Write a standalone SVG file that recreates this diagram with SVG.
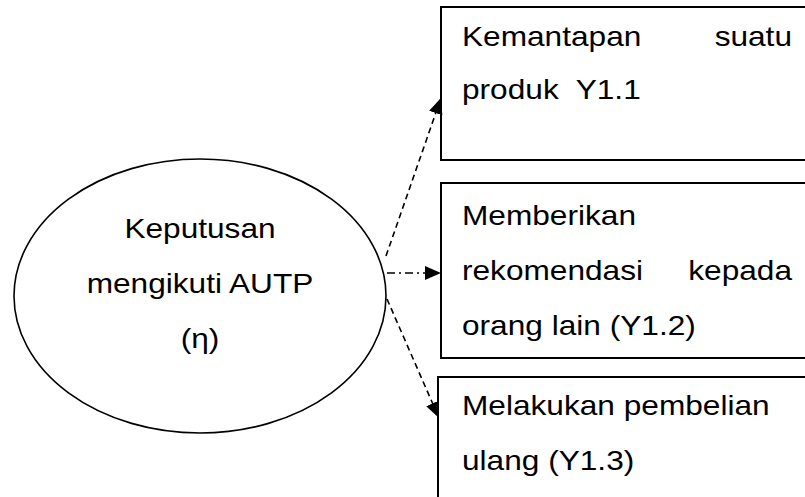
<svg xmlns="http://www.w3.org/2000/svg" width="805" height="497" viewBox="0 0 805 497">
<style>
.t{font-family:"Liberation Sans",Arial,sans-serif;font-size:28px;fill:#000;white-space:pre}
.box{fill:#fff;stroke:#000;stroke-width:2}
.ell{fill:#fff;stroke:#000;stroke-width:1.6}
.dash{fill:none;stroke:#000;stroke-width:1.6;stroke-dasharray:6 4}
.dashdot{fill:none;stroke:#000;stroke-width:1.6;stroke-dasharray:8 4 2 4}
</style>
<defs>
<marker id="ah" markerUnits="userSpaceOnUse" markerWidth="16" markerHeight="14" refX="16" refY="7" orient="auto">
<path d="M0,0 L16,7 L0,14 Z" fill="#000"/>
</marker>
</defs>
<rect width="805" height="497" fill="#fff"/>
<g id="node-eta">
<ellipse class="ell" cx="200" cy="296" rx="186" ry="137"/>
<text class="t" text-anchor="middle" transform="translate(200,238) scale(1.13,1)">Keputusan</text>
<text class="t" text-anchor="middle" transform="translate(200,293) scale(1.13,1)">mengikuti AUTP</text>
<text class="t" text-anchor="middle" transform="translate(200,348) scale(1.13,1)">(η)</text>
</g>
<g id="node-y11">
<rect class="box" x="441" y="7" width="380" height="153"/>
<text class="t" transform="translate(462,46) scale(1.13,1)">Kemantapan</text>
<text class="t" text-anchor="end" transform="translate(792,46) scale(1.13,1)">suatu</text>
<text class="t" transform="translate(462,99) scale(1.13,1)">produk  Y1.1</text>
</g>
<g id="node-y12">
<rect class="box" x="441" y="183" width="380" height="175"/>
<text class="t" transform="translate(462,225) scale(1.13,1)">Memberikan</text>
<text class="t" transform="translate(462,280) scale(1.13,1)">rekomendasi</text>
<text class="t" text-anchor="end" transform="translate(792,280) scale(1.13,1)">kepada</text>
<text class="t" transform="translate(462,335) scale(1.13,1)">orang lain (Y1.2)</text>
</g>
<g id="node-y13">
<rect class="box" x="438" y="377" width="383" height="140"/>
<text class="t" transform="translate(462,415) scale(1.13,1)">Melakukan pembelian</text>
<text class="t" transform="translate(462,470) scale(1.13,1)">ulang (Y1.3)</text>
</g>
<g id="connectors">
<line class="dash" x1="386" y1="256" x2="441" y2="98" marker-end="url(#ah)"/>
<line class="dashdot" x1="387" y1="273" x2="441" y2="273" marker-end="url(#ah)"/>
<line class="dash" x1="387" y1="299" x2="439" y2="418" marker-end="url(#ah)"/>
</g>
</svg>
